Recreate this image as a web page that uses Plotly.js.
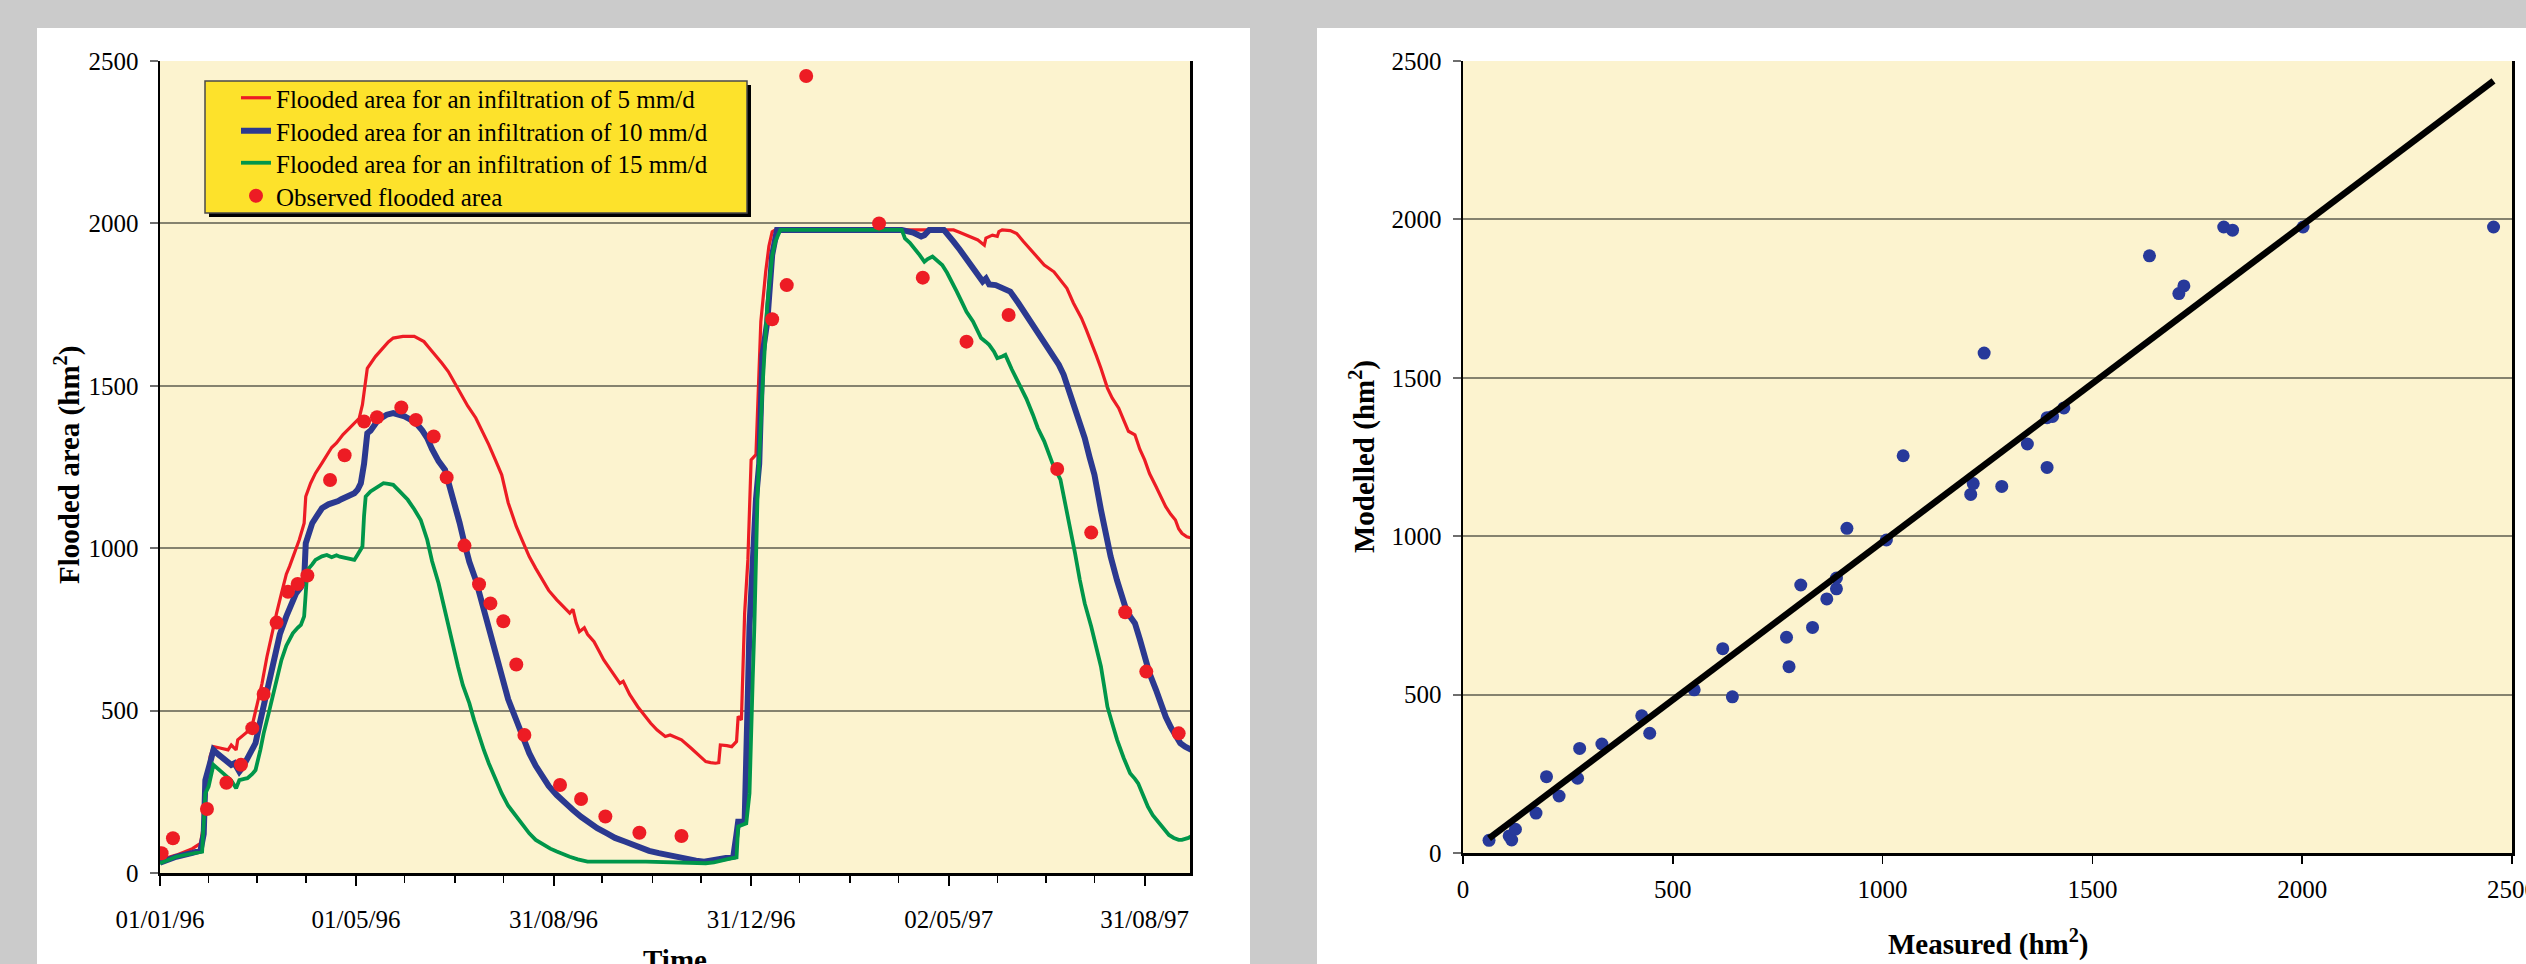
<!DOCTYPE html>
<html>
<head>
<meta charset="utf-8">
<script src="https://cdn.plot.ly/plotly-3.0.1.min.js"></script>
<style>html,body{margin:0;padding:0;background:#cbcbcb;}#chart{width:2526px;height:964px;}</style>
</head>
<body>
<div id="chart"></div>
<script>
// ---------- DATA ----------
// time axis: day offsets from 01/01/1996
const redDay = [0,10,20,25,27,29,31,33,37,42,44,47,48,52,54,57,60,63,66,69,72,75,78,80,83,86,89,90,93,96,100,103,106,109,113,117,120,123,125,127,128,133,138,141,144,150,157,160,163,166,170,174,178,182,186,190,195,199,203,207,211,215,220,224,228,232,236,240,245,249,253,255,257,259,262,264,268,271,274,279,284,286,290,295,299,303,307,312,315,318,322,328,333,337,340,343,345,346,350,353,356,357,359,360,361,363,365,368,370,371,374,376,378,380,484,490,494,498,502,505,509,510,514,517,518,520,525,529,533,537,541,546,552,556,560,564,569,572,575,578,581,585,588,592,595,598,602,605,608,611,615,618,621,624,627,629,631,634,637];
const redVal = [40,55,75,91,150,290,360,389,385,379,394,379,410,425,435,456,520,584,665,738,800,861,920,944,985,1026,1077,1159,1200,1231,1262,1288,1310,1324,1350,1370,1385,1400,1442,1510,1554,1590,1616,1635,1647,1652,1652,1645,1636,1618,1595,1570,1544,1510,1472,1438,1401,1362,1319,1273,1226,1140,1067,1020,974,938,902,870,841,820,800,812,770,743,755,735,712,684,656,620,584,590,550,512,486,461,440,420,425,418,410,384,360,343,340,338,340,394,392,389,405,482,471,656,800,964,1272,1288,1550,1698,1851,1930,1974,1980,1980,1980,1972,1964,1955,1949,1933,1955,1964,1960,1975,1980,1978,1969,1945,1923,1898,1872,1851,1826,1800,1755,1708,1672,1636,1595,1554,1493,1462,1431,1395,1360,1349,1305,1272,1230,1190,1160,1128,1105,1087,1060,1046,1035,1031];

const blueDay = [0,10,20,25,27,28,31,33,36,40,42,44,46,49,51,54,57,59,62,65,68,71,74,78,81,84,87,89,90,92,94,97,100,104,107,110,112,116,120,122,124,126,128,130,134,137,140,144,148,151,155,159,162,165,168,172,176,179,182,185,188,191,195,199,203,207,211,215,220,224,228,232,236,240,245,250,255,260,265,270,276,281,287,292,297,302,308,313,318,322,326,331,336,340,345,350,354,356,357,361,362,363,364,366,368,370,372,375,378,381,458,465,470,472,475,484,487,490,494,498,503,508,510,512,516,520,525,530,535,540,546,552,555,558,561,564,567,571,574,577,581,584,587,591,596,599,602,605,608,611,615,618,621,624,627,630,633,637];
const blueVal = [32,50,62,69,120,286,340,379,365,350,343,333,338,312,325,353,375,400,470,533,605,677,735,790,830,861,880,900,1015,1050,1077,1100,1123,1135,1139,1145,1151,1160,1169,1180,1200,1260,1354,1362,1390,1402,1411,1416,1412,1406,1395,1380,1362,1339,1305,1268,1241,1190,1139,1078,1015,958,902,825,748,675,605,535,471,417,369,330,297,268,240,215,194,173,153,138,122,108,97,86,76,68,61,55,50,46,42,38,35,38,42,46,50,120,158,158,300,553,760,964,1150,1260,1595,1698,1903,1980,1980,1972,1960,1964,1980,1980,1965,1944,1918,1892,1858,1821,1830,1812,1810,1800,1790,1755,1718,1677,1636,1595,1565,1534,1490,1442,1390,1339,1280,1226,1118,1045,974,900,820,790,769,720,666,615,564,520,481,450,420,400,389,379];

const greenDay = [0,10,20,26,28,30,33,36,40,44,47,49,52,54,57,59,62,64,67,69,72,75,78,82,85,87,89,90,91,94,96,100,103,106,109,111,115,120,122,125,126,127,130,134,138,141,144,148,153,157,161,165,168,172,175,178,181,184,187,191,194,197,200,203,207,211,215,220,224,228,232,237,241,245,249,253,258,264,300,337,342,347,352,356,357,362,364,366,367,369,372,375,378,380,383,458,460,463,466,469,472,474,477,480,483,486,489,492,495,498,502,507,510,512,515,517,520,522,526,531,535,539,542,546,551,556,559,562,565,568,571,575,578,581,583,585,588,591,595,599,602,604,607,610,613,617,620,623,626,629,631,633,635,637];
const greenVal = [30,50,60,66,245,266,333,320,302,285,261,286,290,292,305,317,380,430,490,533,600,656,700,738,755,764,790,860,933,950,964,975,979,972,978,974,970,964,980,1005,1100,1159,1175,1188,1200,1198,1195,1175,1149,1120,1087,1026,960,892,825,759,695,636,578,523,470,420,378,338,290,245,207,174,145,122,102,86,75,66,57,50,42,35,35,30,33,40,44,48,143,153,245,600,758,1169,1493,1749,1900,1944,1980,1980,1954,1940,1923,1903,1882,1890,1898,1885,1872,1848,1821,1790,1759,1728,1698,1647,1635,1626,1605,1585,1590,1595,1550,1503,1460,1411,1370,1329,1262,1211,1140,1067,985,902,830,759,700,636,575,512,460,410,355,307,290,276,240,204,178,153,135,117,108,102,102,104,108,114];

const obsDay = [1,8,29,41,50,57,64,72,79,85,91,105,114,126,134,149,158,169,177,188,197,204,212,220,225,247,260,275,296,322,378,387,399,444,471,498,524,554,575,596,609,629];
const obsVal = [61,107,197,278,333,446,551,771,866,890,916,1210,1286,1390,1403,1433,1395,1344,1218,1008,889,830,775,642,425,271,228,174,124,114,1705,1810,2454,2000,1833,1636,1718,1244,1048,803,620,430];

const tickDates  = ['1996-01-01','1996-05-01','1996-08-31','1996-12-31','1997-05-02','1997-08-31'];
const tickLabels = ['01/01/96','01/05/96','31/08/96','31/12/96','02/05/97','31/08/97'];

// scatter: measured vs modelled
const measured = [62,110,116,125,174,199,229,273,278,331,426,445,551,619,642,771,777,805,833,867,890,890,915,1009,1049,1210,1216,1242,1284,1345,1392,1392,1405,1432,1636,1706,1718,1813,1834,2002,2456];
const modelled = [40,54,41,75,126,241,180,236,330,344,433,378,515,645,493,681,588,846,712,802,834,868,1025,988,1254,1132,1166,1578,1157,1291,1217,1374,1378,1405,1885,1766,1790,1976,1966,1976,1976];
const fitX = [62,2456];
const fitY = [46,2437];

const names = ['Flooded area for an infiltration of 5 mm/d','Flooded area for an infiltration of 10 mm/d','Flooded area for an infiltration of 15 mm/d','Observed flooded area'];

// ---------- helpers ----------
const BASE = Date.UTC(1996,0,1), DAYMS = 86400000;
const toDate = d => new Date(BASE + d*DAYMS).toISOString().slice(0,10);
const W = 2526, H = 964;
const px = x => x / W, py = y => (H - y) / H;

// minor ticks: quarters between the major ticks
const minorVals = [];
for (let i = 0; i < tickDates.length - 1; i++) {
  const a = Date.parse(tickDates[i]), b = Date.parse(tickDates[i+1]);
  for (let k = 1; k < 4; k++) minorVals.push(new Date(a + (b - a) * k / 4).toISOString().slice(0,10));
}

const RED = '#ed1c24', BLUE = '#2b3990', GREEN = '#00964a', DOT2 = '#27399a';
const serif = 'Liberation Serif, Times New Roman, serif';

const traces = [
  {x: redDay.map(toDate), y: redVal, type:'scatter', mode:'lines', name:names[0], legend:'legend', line:{color:RED, width:3.2}, xaxis:'x', yaxis:'y'},
  {x: blueDay.map(toDate), y: blueVal, type:'scatter', mode:'lines', name:names[1], legend:'legend2', line:{color:BLUE, width:6}, xaxis:'x', yaxis:'y'},
  {x: greenDay.map(toDate), y: greenVal, type:'scatter', mode:'lines', name:names[2], legend:'legend3', line:{color:GREEN, width:3.8}, xaxis:'x', yaxis:'y'},
  {x: obsDay.map(toDate), y: obsVal, type:'scatter', mode:'markers', name:names[3], legend:'legend4', marker:{color:RED, size:14}, xaxis:'x', yaxis:'y'},
  {x: measured, y: modelled, type:'scatter', mode:'markers', showlegend:false, marker:{color:DOT2, size:13}, xaxis:'x2', yaxis:'y2'},
  {x: fitX, y: fitY, type:'scatter', mode:'lines', showlegend:false, line:{color:'#000', width:6.5}, xaxis:'x2', yaxis:'y2'}
];

const tickfont = {family: serif, size: 25, color:'#000'};
const gridc = '#85826f';
const legendBase = (top) => ({x:px(236), y:py(top), xanchor:'left', yanchor:'top', bgcolor:'rgba(0,0,0,0)', borderwidth:0,
          font:{family:serif, size:25, color:'#000'}, itemwidth:30});

const layout = {
  width: W, height: H, autosize:false,
  margin:{l:0,r:0,t:0,b:0,pad:0},
  paper_bgcolor:'#cbcbcb', plot_bgcolor:'rgba(0,0,0,0)',
  showlegend:true,
  legend: legendBase(75),
  legend2: legendBase(108),
  legend3: legendBase(140),
  legend4: legendBase(173),
  xaxis:{type:'date', domain:[px(160), px(1190)], anchor:'y', range:['1996-01-01','1997-09-28'],
         tickmode:'array', tickvals:tickDates, ticktext:tickLabels, tickfont:tickfont,
         ticks:'outside', ticklen:10, tickwidth:2, tickcolor:'#000',
         minor:{tickmode:'array', tickvals:minorVals, ticks:'outside', ticklen:7, tickwidth:1.5, tickcolor:'#000', showgrid:false},
         showgrid:false, zeroline:false, showline:true, linecolor:'#000', linewidth:3, ticklabelstandoff:12},
  yaxis:{domain:[py(873), py(61)], anchor:'x', range:[0,2500], tickmode:'linear', tick0:0, dtick:500,
         tickfont:tickfont, ticks:'outside', ticklen:8, tickwidth:2, tickcolor:'#6e6e6e',
         showgrid:true, gridcolor:gridc, gridwidth:2, zeroline:false,
         showline:true, linecolor:'#000', linewidth:2.5, mirror:true, ticklabelstandoff:6},
  xaxis2:{domain:[px(1463), px(2512)], anchor:'y2', range:[0,2500], tickmode:'linear', tick0:0, dtick:500,
          tickfont:tickfont, ticks:'outside', ticklen:8, tickwidth:1.5, tickcolor:'#000', ticklabeloverflow:'allow',
          showgrid:false, zeroline:false, showline:true, linecolor:'#000', linewidth:3, ticklabelstandoff:4},
  yaxis2:{domain:[py(853), py(61)], anchor:'x2', range:[0,2500], tickmode:'linear', tick0:0, dtick:500,
          tickfont:tickfont, ticks:'outside', ticklen:8, tickwidth:2, tickcolor:'#6e6e6e',
          showgrid:true, gridcolor:gridc, gridwidth:2, zeroline:false,
          showline:true, linecolor:'#000', linewidth:2.5, mirror:true, ticklabelstandoff:6},
  shapes:[
    {type:'rect', xref:'paper', yref:'paper', x0:px(37), x1:px(1250), y0:0, y1:py(28), fillcolor:'#ffffff', line:{width:0}, layer:'below'},
    {type:'rect', xref:'paper', yref:'paper', x0:px(1317), x1:1, y0:0, y1:py(28), fillcolor:'#ffffff', line:{width:0}, layer:'below'},
    {type:'rect', xref:'x domain', yref:'y domain', x0:0, x1:1, y0:0, y1:1, fillcolor:'#fcf3cf', line:{width:0}, layer:'below'},
    {type:'rect', xref:'x2 domain', yref:'y2 domain', x0:0, x1:1, y0:0, y1:1, fillcolor:'#fcf3cf', line:{width:0}, layer:'below'},
    {type:'rect', xref:'paper', yref:'paper', x0:px(209), x1:px(751), y0:py(217), y1:py(85), fillcolor:'#000', line:{width:0}, layer:'above'},
    {type:'rect', xref:'paper', yref:'paper', x0:px(205), x1:px(747), y0:py(213), y1:py(81), fillcolor:'#fde22b', line:{color:'#4a4a4a', width:1.5}, layer:'above'}
  ],
  annotations:[
    {text:'<b>Flooded area (hm<sup>2</sup>)</b>', xref:'paper', yref:'paper', x:px(68), y:py(465), xanchor:'center', yanchor:'middle', textangle:-90, showarrow:false, font:{family:serif, size:29, color:'#000'}},
    {text:'<b>Time</b>', xref:'paper', yref:'paper', x:px(675), y:py(960), xanchor:'center', yanchor:'middle', showarrow:false, font:{family:serif, size:29, color:'#000'}},
    {text:'<b>Modelled (hm<sup>2</sup>)</b>', xref:'paper', yref:'paper', x:px(1362), y:py(457), xanchor:'center', yanchor:'middle', textangle:-90, showarrow:false, font:{family:serif, size:29, color:'#000'}},
    {text:'<b>Measured (hm<sup>2</sup>)</b>', xref:'paper', yref:'paper', x:px(1988), y:py(942), xanchor:'center', yanchor:'middle', showarrow:false, font:{family:serif, size:29, color:'#000'}}
  ]
};

Plotly.newPlot('chart', traces, layout, {staticPlot:true, displayModeBar:false});
</script>
</body>
</html>
